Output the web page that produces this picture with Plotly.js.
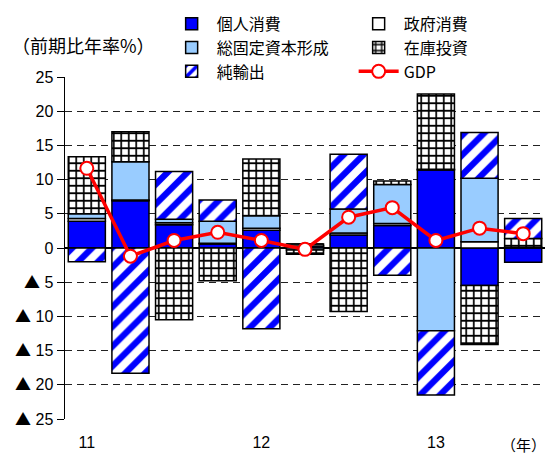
<!DOCTYPE html>
<html>
<head>
<meta charset="utf-8">
<script src="https://cdn.plot.ly/plotly-3.0.1.min.js"></script>
<style>html,body{margin:0;padding:0;background:#fff}#chart{width:550px;height:458px}</style>
</head>
<body>
<div id="chart"></div>
<script>
// Quarters (2011Q1 .. 2013Q3)
const quarters = ['2011Q1','2011Q2','2011Q3','2011Q4','2012Q1','2012Q2','2012Q3','2012Q4','2013Q1','2013Q2','2013Q3'];
const xTickVals = ['2011Q1','2012Q1','2013Q1'];
const xTickText = ['11','12','13'];

// Contributions (% points, annualized q/q)
const privateConsumption = [3.9, 6.9, 3.4, 0.6, 2.6, 0.3, 1.9, 3.3, 11.4, -5.5, -2.1];
const governmentConsumption = [0.4, 0.1, 0.3, 0.1, 0.3, 0.3, 0.3, 0.3, 0.1, 0.9, 0.1];
const fixedCapital = [0.7, 5.6, 0.5, 3.2, 1.8, -0.3, 3.5, 5.7, -12.1, 9.3, 0.0];
const inventory = [8.35, 4.4, -10.5, -4.8, 8.3, -0.6, -9.3, 0.5, 11.0, -8.6, 1.3];
const netExports = [-2.0, -18.3, 7.0, 3.1, -11.8, 0.0, 8.0, -4.0, -9.4, 6.7, 2.9];
const gdp = [11.65, -1.2, 1.1, 2.3, 1.1, -0.2, 4.5, 5.9, 1.1, 2.9, 2.1];

const yTickVals = [25, 20, 15, 10, 5, 0, -5, -10, -15, -20, -25];
const TRI = '<span style="font-family:Noto Sans CJK JP">▲</span> ';
const yTickText = ['25','20','15','10','5','0',TRI+'5',TRI+'10',TRI+'15',TRI+'20',TRI+'25'];
const boundaryTicks = [0.5,1.5,2.5,3.5,4.5,5.5,6.5,7.5,8.5,9.5,10.5];

const FONT = 'Liberation Sans, Arial, Noto Sans CJK JP, sans-serif';
const JFONT = 'Noto Sans CJK JP, sans-serif';
const outline = {color: '#000', width: 1.5};

const traces = [
  {type:'bar', name:'個人消費', x:quarters, y:privateConsumption,
   marker:{color:'#0000ff', line:outline}},
  {type:'bar', name:'政府消費', x:quarters, y:governmentConsumption,
   marker:{color:'#ffffff', line:outline}},
  {type:'bar', name:'総固定資本形成', x:quarters, y:fixedCapital,
   marker:{color:'#99ccff', line:outline}},
  {type:'bar', name:'在庫投資', x:quarters, y:inventory,
   marker:{color:'#ffffff', line:outline,
     pattern:{shape:'+', fgcolor:'#000000', bgcolor:'#ffffff', fgopacity:1, size:7.5, solidity:0.4, fillmode:'replace'}}},
  {type:'bar', name:'純輸出', x:quarters, y:netExports,
   marker:{color:'#ffffff', line:outline,
     pattern:{shape:'/', fgcolor:'#0000ff', bgcolor:'#ffffff', fgopacity:1, size:14, solidity:0.45, fillmode:'replace'}}},
  {type:'scatter', mode:'lines+markers', name:'GDP', x:quarters, y:gdp,
   line:{color:'#ff0000', width:3.5},
   marker:{symbol:'circle', size:13, color:'#ffffff', line:{color:'#ff0000', width:2}}}
];

const layout = {
  width:550, height:458,
  margin:{l:65, r:5, t:77, b:39, autoexpand:false},
  paper_bgcolor:'#fff', plot_bgcolor:'#fff',
  barmode:'relative', bargap:0.15,
  showlegend:true, hovermode:false,
  font:{family:FONT, size:16, color:'#000'},
  legend:{orientation:'h', xref:'container', yref:'container', x:0.303, y:0.985,
    xanchor:'left', yanchor:'top', entrywidth:132, entrywidthmode:'pixels',
    itemwidth:40, font:{family:JFONT, size:16}, bgcolor:'rgba(0,0,0,0)'},
  xaxis:{type:'category', range:[-0.5,10.5], tickmode:'array', tickvals:xTickVals, ticktext:xTickText,
    ticks:'', showline:false, showgrid:false, zeroline:false, ticklabelstandoff:12,
    tickfont:{family:FONT, size:16}},
  xaxis2:{overlaying:'x', anchor:'free', position:0.5, type:'linear', range:[-0.5,10.5],
    tickmode:'array', tickvals:boundaryTicks, ticks:'inside', ticklen:5, tickcolor:'#000', tickwidth:1,
    showticklabels:false, showline:false, showgrid:false, zeroline:false},
  yaxis:{range:[-25,25], tickmode:'array', tickvals:yTickVals, ticktext:yTickText,
    showline:true, linecolor:'#000', linewidth:1.5, ticks:'outside', ticklen:7, tickcolor:'#000',
    showgrid:true, gridcolor:'#222', gridwidth:1, griddash:'7px,5px',
    zeroline:true, zerolinecolor:'#000', zerolinewidth:2,
    tickfont:{family:FONT, size:16}},
  annotations:[
    {text:'（前期比年率%）', xref:'paper', yref:'paper', x:-0.115, y:1.093, xanchor:'left', yanchor:'middle',
     showarrow:false, font:{family:JFONT, size:18}},
    {text:'（年）', xref:'paper', yref:'paper', x:1.006, y:-0.076, xanchor:'right', yanchor:'middle',
     showarrow:false, font:{family:JFONT, size:15}}
  ]
};

Plotly.newPlot('chart', traces, layout, {displayModeBar:false, staticPlot:true});
</script>
</body>
</html>
